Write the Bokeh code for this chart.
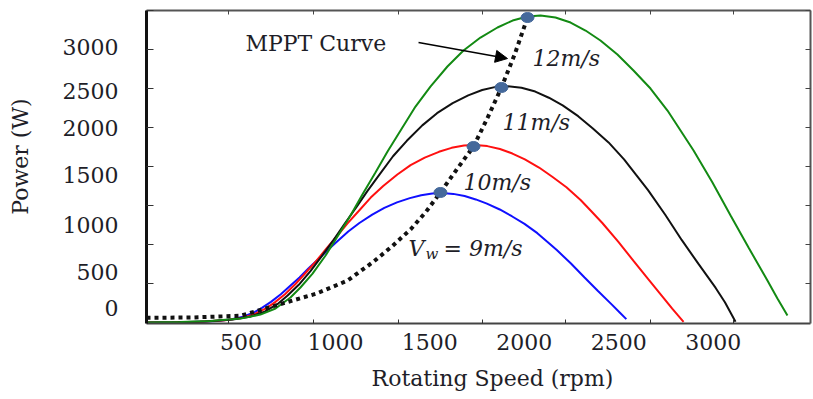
import numpy as np
from bokeh.plotting import figure
from bokeh.models import FixedTicker, LinearAxis, Range1d, Label, Arrow, NormalHead
from bokeh.embed import file_html
from bokeh.resources import INLINE

# ---------------- data (rpm, W) ----------------
rpm_9 = [0, 135, 254, 374, 452, 512, 572, 611, 659, 711, 758, 810, 857, 909, 957, 1009, 1068, 1127,
         1195, 1259, 1326, 1394, 1454, 1513, 1565, 1624, 1684, 1743, 1802, 1870, 1934, 2001, 2069,
         2120, 2172, 2247, 2319, 2390, 2465, 2505, 2540]
p_9 = [0, 3, 8, 20, 39, 69, 122, 171, 239, 327, 419, 521, 624, 730, 832, 935, 1051, 1149,
       1246, 1324, 1387, 1436, 1470, 1490, 1494, 1485, 1460, 1421, 1373, 1305, 1227, 1139, 1032,
       935, 837, 682, 521, 365, 205, 117, 40]

rpm_10 = [0, 150, 283, 415, 503, 569, 635, 679, 733, 790, 843, 900, 953, 1010, 1063, 1121, 1187,
          1253, 1328, 1398, 1473, 1548, 1615, 1681, 1738, 1804, 1871, 1937, 2003, 2078, 2148, 2223,
          2298, 2356, 2413, 2497, 2577, 2656, 2739, 2783, 2843]
p_10 = [1, 4, 10, 27, 54, 94, 168, 234, 328, 448, 575, 715, 855, 1002, 1142, 1282, 1442,
        1576, 1709, 1816, 1903, 1970, 2016, 2043, 2050, 2036, 2003, 1950, 1883, 1789, 1683, 1562,
        1415, 1282, 1149, 935, 715, 501, 281, 161, 8]

rpm_11 = [0, 165, 311, 457, 553, 626, 699, 747, 806, 869, 927, 990, 1048, 1111, 1170, 1233, 1305,
          1378, 1460, 1538, 1621, 1703, 1777, 1849, 1912, 1985, 2058, 2130, 2203, 2285, 2363, 2446,
          2528, 2591, 2655, 2746, 2834, 2921, 3013, 3062, 3118]
p_11 = [1, 5, 14, 36, 72, 126, 223, 312, 436, 596, 765, 951, 1138, 1333, 1519, 1706, 1919,
        2097, 2275, 2416, 2532, 2621, 2683, 2719, 2727, 2710, 2665, 2594, 2506, 2381, 2239, 2079,
        1883, 1706, 1528, 1244, 951, 680, 400, 235, 10]

rpm_12 = [0, 180, 339, 498, 603, 683, 762, 815, 879, 948, 1011, 1080, 1143, 1212, 1276, 1345, 1424,
          1503, 1593, 1678, 1768, 1858, 1938, 2017, 2086, 2165, 2245, 2324, 2403, 2493, 2578, 2668,
          2758, 2827, 2896, 2996, 3092, 3187, 3287, 3340, 3393]
p_12 = [1, 7, 18, 47, 93, 163, 290, 405, 566, 774, 993, 1235, 1478, 1731, 1973, 2216, 2492,
        2723, 2954, 3138, 3288, 3404, 3484, 3531, 3542, 3519, 3461, 3369, 3254, 3092, 2908, 2700,
        2446, 2216, 1985, 1616, 1235, 866, 486, 278, 82]

mppt_rpm = [0, 250, 500, 672, 900, 1064, 1200, 1300, 1400, 1480, 1556, 1640, 1731, 1805, 1879, 1950, 2017]
mppt_p = [55, 60, 80, 190, 335, 485, 700, 880, 1080, 1280, 1501, 1760, 2031, 2360, 2712, 3100, 3519]

peak_rpm = [1556, 1731, 1879, 2017]
peak_p = [1501, 2031, 2712, 3519]

x_tick_labels = [500, 1000, 1500, 2000, 2500, 3000]
y_tick_labels = ["0", "500", "1000", "1500", "2000", "2500", "3000"]

x_title = "Rotating Speed (rpm)"
y_title = "Power (W)"

# ---------------- layout constants ----------------
y_label_pos = [174, 581, 1130, 1702, 2244, 2677, 3176]
y_tick_marks = [450, 900, 1350, 1800, 2250, 2700, 3150, 3600]
x_tick_marks = [434, 884, 1334, 1779, 2218, 2668, 3107]
PAD = "\u00a0"  # non-breaking spaces used to nudge the centred axis titles

FONT = "DejaVu Serif"
TXT = "#1e1e28"

p = figure(width=813, height=399, x_range=Range1d(0, 3515), y_range=Range1d(-10, 3600),
           output_backend="svg", toolbar_location=None,
           min_border_left=146, min_border_right=3, min_border_top=10, min_border_bottom=76)
p.xgrid.visible = False
p.ygrid.visible = False
p.outline_line_color = None
p.background_fill_color = "white"
p.border_fill_color = "white"

# left axis
ya = p.yaxis[0]
ya.ticker = FixedTicker(ticks=y_label_pos, minor_ticks=y_tick_marks)
ya.major_label_overrides = {pos: lab for pos, lab in zip(y_label_pos, y_tick_labels)}
ya.major_tick_in = 0
ya.major_tick_out = 0
ya.minor_tick_in = 7
ya.minor_tick_out = 0
ya.minor_tick_line_color = "#333333"
ya.axis_line_width = 3
ya.axis_line_color = "#111111"
ya.major_label_standoff = 28
ya.major_label_text_font = FONT
ya.major_label_text_font_size = "22px"
ya.major_label_text_color = TXT
ya.axis_label = PAD * 3 + y_title
ya.axis_label_standoff = 27
ya.axis_label_text_font = FONT
ya.axis_label_text_font_size = "22px"
ya.axis_label_text_font_style = "normal"
ya.axis_label_text_color = TXT

# bottom axis
xa = p.xaxis[0]
xa.ticker = FixedTicker(ticks=x_tick_labels, minor_ticks=x_tick_marks)
xa.major_tick_in = 0
xa.major_tick_out = 0
xa.minor_tick_in = 4
xa.minor_tick_out = 0
xa.minor_tick_line_color = "#333333"
xa.axis_line_width = 2
xa.axis_line_color = "#444444"
xa.major_label_standoff = 10
xa.major_label_text_font = FONT
xa.major_label_text_font_size = "22px"
xa.major_label_text_color = TXT
xa.axis_label = PAD * 4 + x_title
xa.axis_label_standoff = 13
xa.axis_label_text_font = FONT
xa.axis_label_text_font_size = "22px"
xa.axis_label_text_font_style = "normal"
xa.axis_label_text_color = TXT

# top and right frame ticks
top = LinearAxis(ticker=FixedTicker(ticks=[], minor_ticks=x_tick_marks),
                 major_tick_in=0, major_tick_out=0, minor_tick_in=4, minor_tick_out=0,
                 major_label_text_font_size="0px", major_label_standoff=0,
                 axis_line_width=2, axis_line_color="#555555", minor_tick_line_color="#444444")
p.add_layout(top, "above")
right = LinearAxis(ticker=FixedTicker(ticks=[], minor_ticks=y_tick_marks),
                   major_tick_in=0, major_tick_out=0, minor_tick_in=5, minor_tick_out=0,
                   major_label_text_font_size="0px", major_label_standoff=0,
                   axis_line_width=2, axis_line_color="#555555", minor_tick_line_color="#444444")
p.add_layout(right, "right")

# curves
p.line(rpm_9, p_9, line_color="#1010ff", line_width=2)
p.line(rpm_10, p_10, line_color="#ff1010", line_width=2)
p.line(rpm_11, p_11, line_color="#111111", line_width=2)
p.line(rpm_12, p_12, line_color="#138a13", line_width=2)
p.line(mppt_rpm, mppt_p, line_color="#111111", line_width=4, line_dash="4 4")
p.ellipse(peak_rpm, peak_p, width=13, height=10, width_units="screen", height_units="screen",
          fill_color="#45699b", line_color="#45699b")

# annotations
def lab(x, y, text, size="22px", style="normal", **kw):
    p.add_layout(Label(x=x, y=y, text=text, text_font=FONT, text_font_size=size,
                       text_font_style=style, text_color=TXT, text_baseline="middle",
                       text_align="left", **kw))

lab(524, 3219, "MPPT Curve")
lab(2043, 3046, "12m/s", style="italic")
lab(1885, 2308, "11m/s", style="italic")
lab(1678, 1616, "10m/s", style="italic")
lab(1387, 855, "V", style="italic")
lab(1477, 790, "w", size="15px", style="italic")
lab(1572, 855, "= 9m/s", style="italic")

p.add_layout(Arrow(end=NormalHead(size=12, fill_color="black", line_color="black"),
                   x_start=1440, y_start=3231, x_end=1911, y_end=3046,
                   line_width=1.5, line_color="black"))

open("out.html", "w").write(file_html(p, INLINE))
